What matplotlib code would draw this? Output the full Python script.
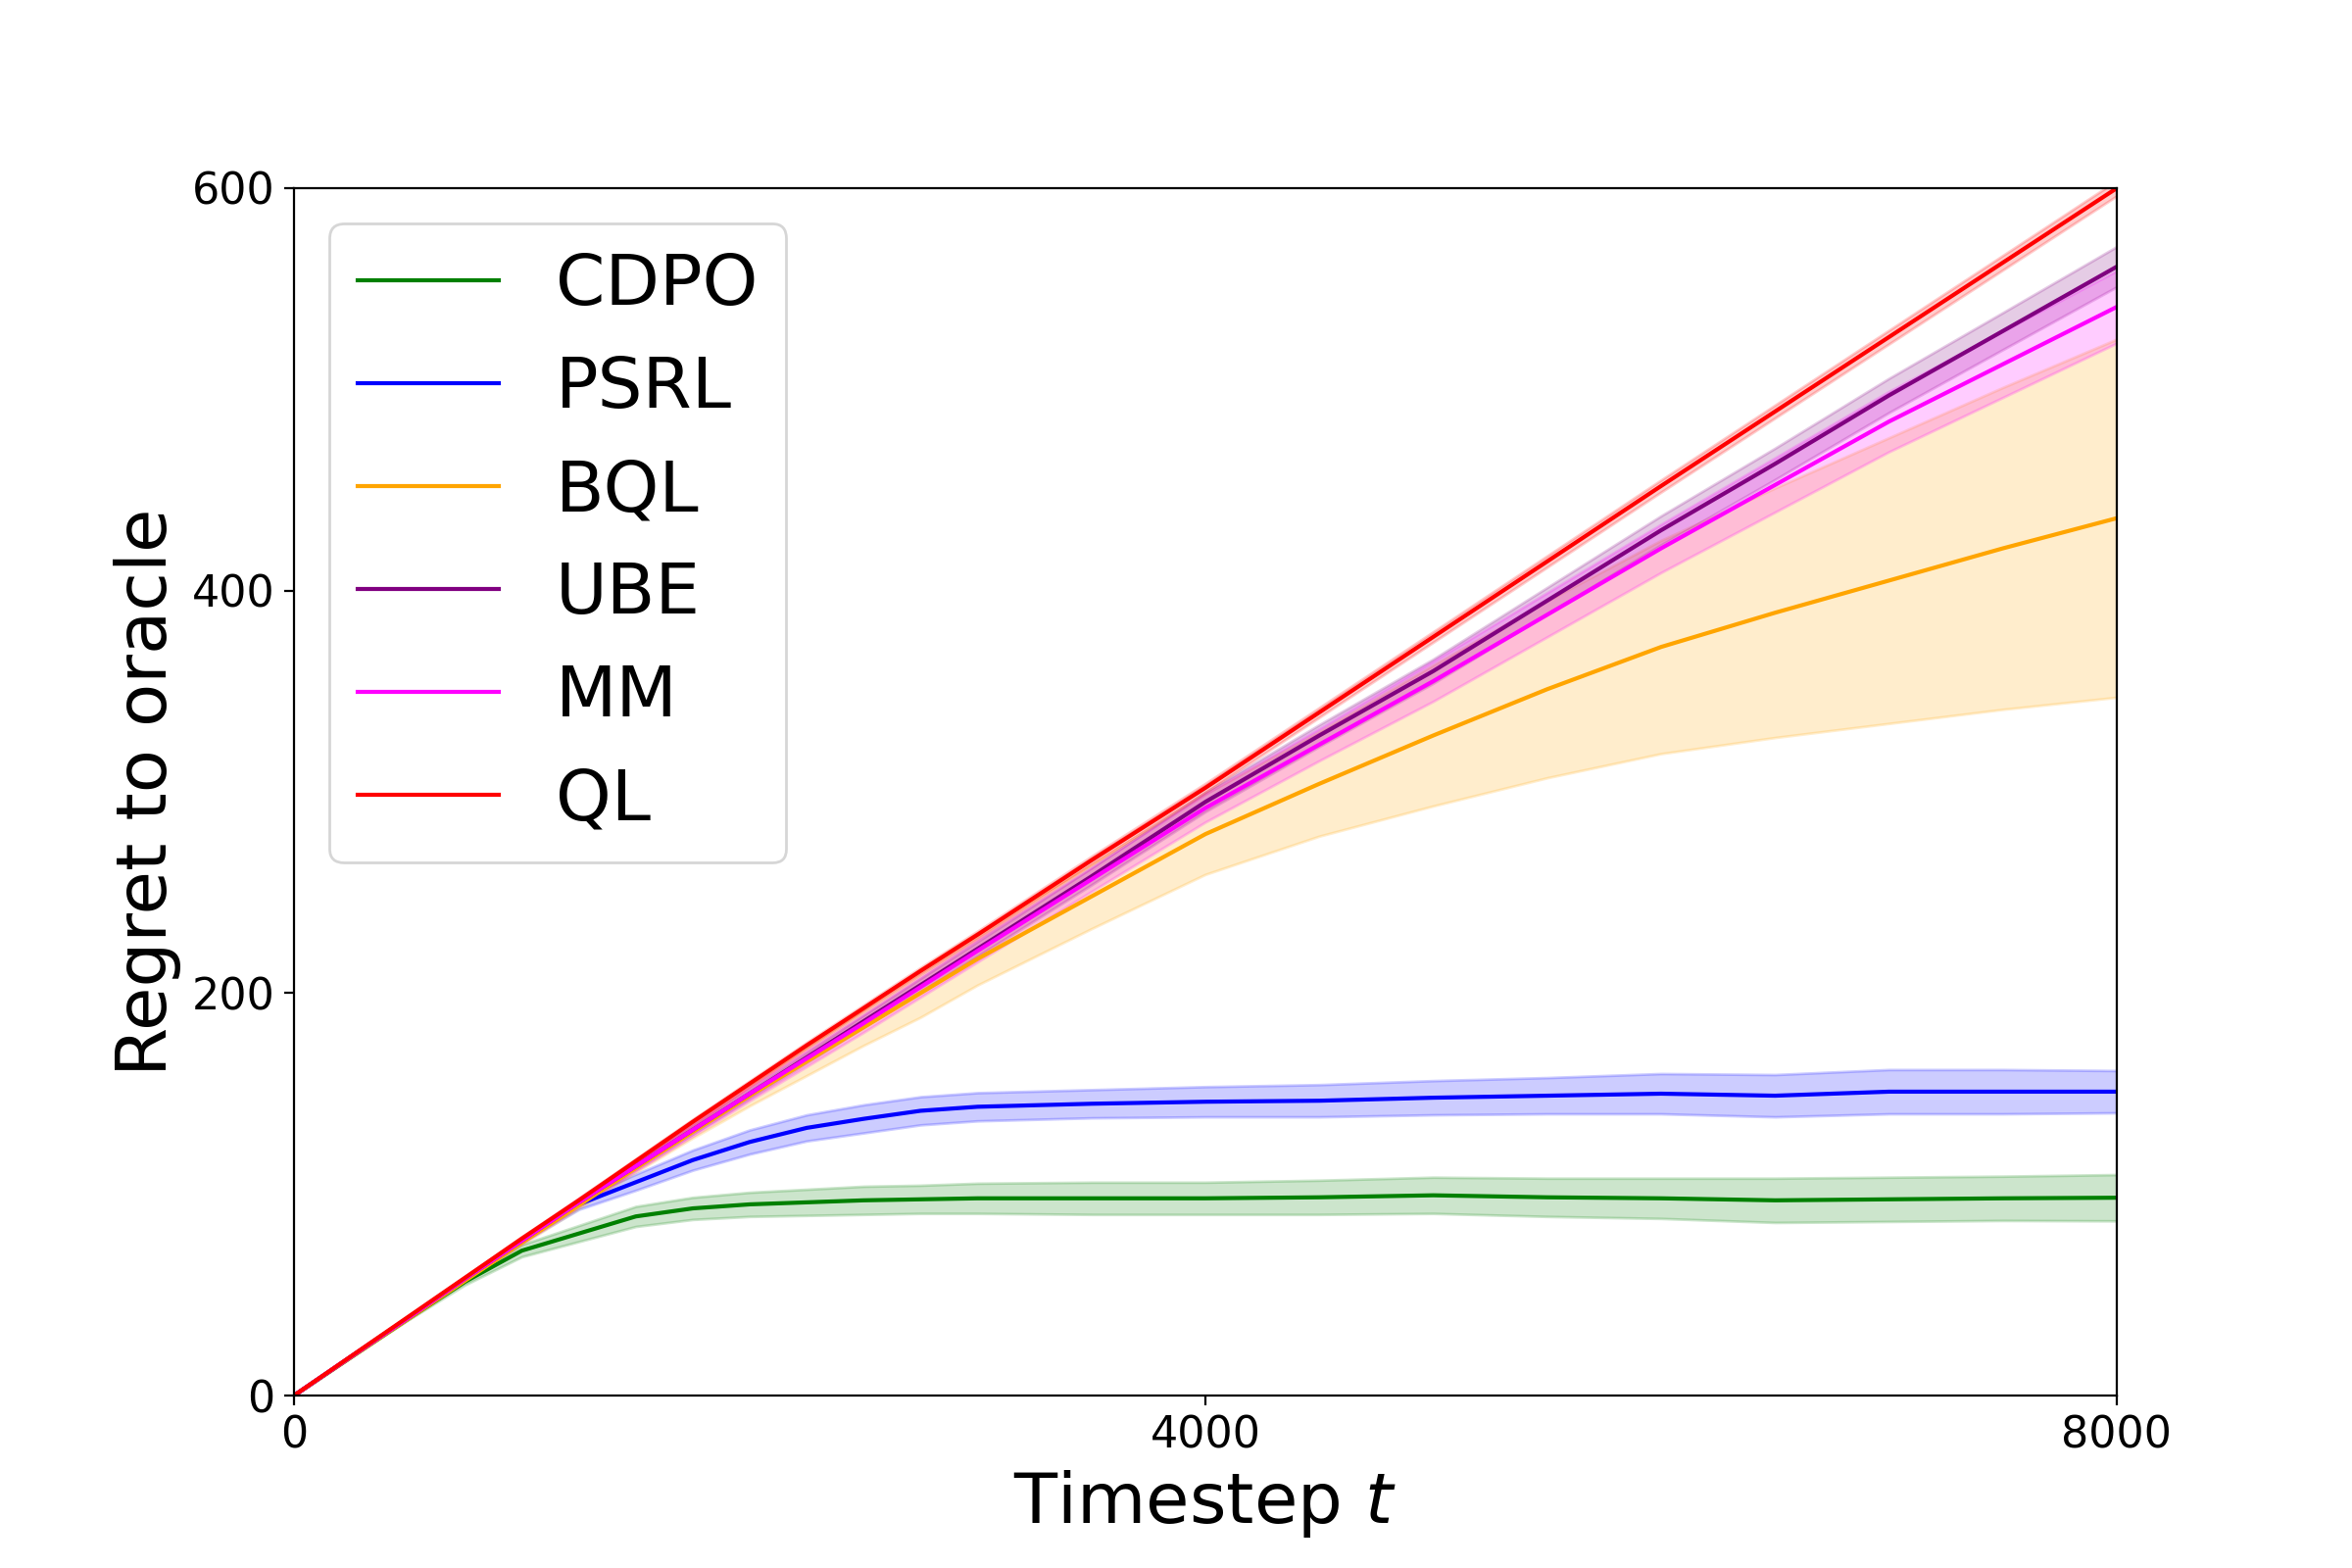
import numpy as np
import matplotlib
matplotlib.use("Agg")
import matplotlib.pyplot as plt

# Timesteps (sample points)
t = [0, 250, 500, 750, 1000, 1250, 1500, 1750, 2000, 2250, 2500, 2750, 3000,
     3500, 4000, 4500, 5000, 5500, 6000, 6500, 7000, 7500, 8000]

labels = ["CDPO", "PSRL", "BQL", "UBE", "MM", "QL"]
colors = ["green", "blue", "orange", "purple", "magenta", "red"]

cdpo_mean = [0, 19, 38, 56.5, 72, 80.5, 89, 93, 95, 96, 97, 97.5, 98,
             98, 98, 98.5, 99.5, 98.5, 98, 97, 97.5, 98, 98.3]
cdpo_spread = [0, 0, 0.5, 1.5, 3, 4, 5, 5.5, 6, 6.5, 7, 7, 7.5,
               8, 8, 8.5, 9, 9.5, 10, 11, 11, 11, 11.5]

psrl_mean = [0, 19.3, 38.5, 58, 77, 95, 106, 117, 126, 133, 137.5, 141.5, 143.5,
             145, 146, 146.5, 148, 149, 150, 149, 151, 151, 151]
psrl_spread = [0, 0, 0, 0.5, 1, 2.5, 4, 5, 6, 6.5, 7, 7, 7,
               7, 7.5, 8, 8.5, 9, 10, 10.5, 11, 11, 10.5]

bql_mean = [0, 19, 38, 57, 76, 94.5, 113, 131, 149, 166, 183, 200, 217,
            248, 279, 304, 328, 351, 372, 389, 405, 421, 436]
bql_spread = [0, 0.2, 0.4, 0.6, 1, 1.5, 2, 3, 5, 7, 9, 12, 13,
              16, 20, 26, 35, 44, 53, 62, 71, 80, 89]

ube_mean = [0, 19.3, 38.5, 58, 77, 96, 114, 132, 150, 168, 186, 204, 222,
            258, 295, 328, 360, 395, 430, 463, 497, 529, 561]
ube_spread = [0, 0, 0.5, 0.8, 1, 1.3, 1.6, 2, 2.3, 2.6, 3, 3.3, 3.6,
              4.2, 4.8, 5.4, 6, 6.6, 7.2, 7.8, 8.5, 9.2, 10]

mm_mean = [0, 19.3, 38.5, 58, 77, 96, 114, 132, 150, 167.5, 185, 203, 221,
           256.5, 292, 323.5, 355, 388, 421, 452.5, 484, 512.5, 541]
mm_spread = [0, 0, 0.5, 1, 1.5, 2, 2.5, 3, 3.5, 4, 4.5, 5, 5.5,
             6, 7, 8, 10, 11, 12, 13.5, 15, 16.5, 18]

ql_mean = [0, 19.5, 39, 58.5, 78, 97, 116.5, 136, 155, 174, 192.5, 211, 229,
           266, 302, 339.5, 377, 414.5, 452, 489, 526, 563, 600]
ql_spread = [0, 0.3, 0.5, 0.7, 1, 1.1, 1.2, 1.3, 1.4, 1.5, 1.6, 1.7, 1.8,
             2, 2.2, 2.4, 2.6, 2.8, 3, 3.2, 3.4, 3.6, 3.8]

means = [cdpo_mean, psrl_mean, bql_mean, ube_mean, mm_mean, ql_mean]
spreads = [cdpo_spread, psrl_spread, bql_spread, ube_spread, mm_spread, ql_spread]

xticks = [0, 4000, 8000]
yticks = [0, 200, 400, 600]

fig, ax = plt.subplots(figsize=(12, 8), dpi=200)
tt = np.array(t, dtype=float)
for name, col, m, s in zip(labels, colors, means, spreads):
    m = np.array(m, dtype=float)
    s = np.array(s, dtype=float)
    ax.plot(tt, m, color=col, label=name, lw=1.5)
    ax.fill_between(tt, m - s, m + s, color=col, alpha=0.2)

ax.set_xlim(0, 8000)
ax.set_ylim(0, 600)
ax.set_xticks(xticks)
ax.set_yticks(yticks)
ax.tick_params(labelsize=16)
ax.set_xlabel("Timestep $t$", fontsize=26)
ax.set_ylabel("Regret to oracle", fontsize=26)
ax.legend(loc="upper left", fontsize=26)

fig.savefig("out.png", dpi=200)
